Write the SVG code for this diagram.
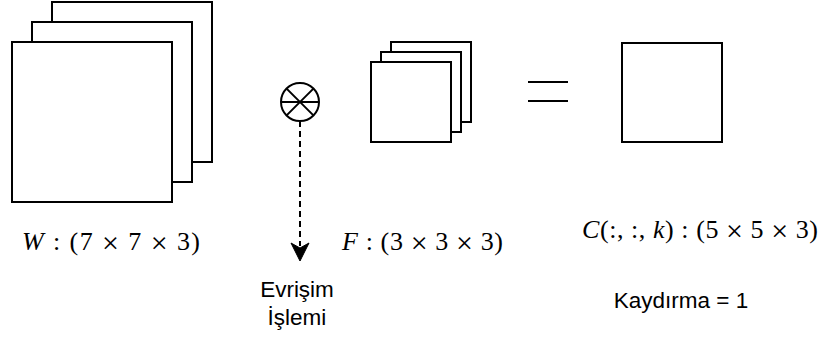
<svg xmlns="http://www.w3.org/2000/svg" width="824" height="338" viewBox="0 0 824 338">
<style>
.sq{fill:#fff;stroke:#000;stroke-width:2}
.ln{fill:none;stroke:#000;stroke-width:2}
.m{font-family:"Liberation Serif","Times New Roman",serif;font-size:26px;fill:#000}
.i{font-style:italic}
.x{font-size:30px;baseline-shift:-2.5px}
.s{font-family:"Liberation Sans",Arial,sans-serif;font-size:22.5px;fill:#000}
</style>
<rect width="824" height="338" fill="#fff"/>
<g id="input-stack">
<rect class="sq" x="52" y="2" width="160" height="160"/>
<rect class="sq" x="32" y="22" width="160" height="160"/>
<rect class="sq" x="12" y="42" width="160" height="160"/>
</g>
<g id="conv-op">
<circle class="ln" cx="300" cy="102" r="19"/>
<line class="ln" x1="281" y1="102" x2="319" y2="102"/>
<line class="ln" x1="286.6" y1="88.6" x2="313.4" y2="115.4"/>
<line class="ln" x1="313.4" y1="88.6" x2="286.6" y2="115.4"/>
</g>
<g id="filter-stack">
<rect class="sq" x="391" y="42" width="80" height="80"/>
<rect class="sq" x="381" y="52" width="80" height="80"/>
<rect class="sq" x="371" y="62" width="80" height="80"/>
</g>
<g id="equals">
<line class="ln" x1="528" y1="82" x2="568" y2="82"/>
<line class="ln" x1="528" y1="101" x2="568" y2="101"/>
</g>
<g id="output">
<rect class="sq" x="622" y="43" width="100" height="99"/>
</g>
<g id="connectors">
<line class="ln" x1="300" y1="121" x2="300" y2="246" stroke-dasharray="6 4"/>
<path d="M300,261 L291,243 L300,248 L309,243 Z" fill="#000" stroke="#000" stroke-width="1"/>
</g>
<g id="labels">
<text class="m" x="22" y="250" textLength="178" lengthAdjust="spacing"><tspan class="i">W</tspan> : (7 <tspan class="x">×</tspan> 7 <tspan class="x">×</tspan> 3)</text>
<text class="m" x="342" y="250" textLength="161" lengthAdjust="spacing"><tspan class="i">F</tspan> : (3 <tspan class="x">×</tspan> 3 <tspan class="x">×</tspan> 3)</text>
<text class="m" x="582" y="238" textLength="236" lengthAdjust="spacing"><tspan class="i">C</tspan>(:, :, <tspan class="i">k</tspan>) : (5 <tspan class="x">×</tspan> 5 <tspan class="x">×</tspan> 3)</text>
<text class="s" x="297" y="297" text-anchor="middle">Evrişim</text>
<text class="s" x="297" y="325" text-anchor="middle">İşlemi</text>
<text class="s" x="681" y="308" text-anchor="middle">Kaydırma = 1</text>
</g>
</svg>
